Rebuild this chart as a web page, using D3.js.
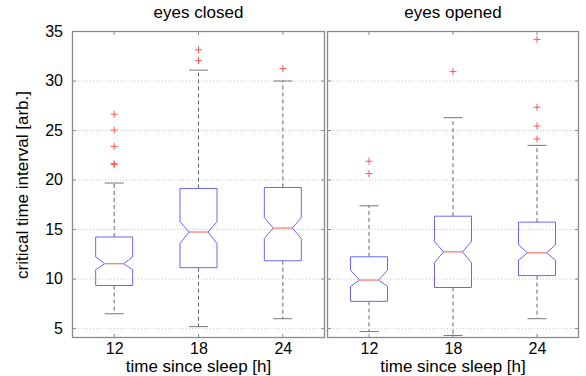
<!DOCTYPE html>
<html><head><meta charset="utf-8">
<script src="https://cdn.jsdelivr.net/npm/d3@7"></script>
<style>body{margin:0;background:#fff}svg{display:block}text{font-family:"Liberation Sans",Arial,sans-serif;fill:#000}</style>
</head><body><svg id="c" width="586" height="376"></svg>
<script>
const categories = ["12","18","24"];
const panels = ["eyes closed","eyes opened"];
const yTicks = [5,10,15,20,25,30,35];
// per panel, per category
const q1 = [[9.3,11.1,11.8],[7.7,9.1,10.3]];
const medians = [[11.5,14.7,15.1],[9.85,12.7,12.6]];
const q3 = [[14.2,19.1,19.2],[12.2,16.3,15.7]];
const notchLo = [[10.9,13.55,14.05],[9.2,11.6,11.85]];
const notchHi = [[12.2,15.75,16.15],[10.85,13.75,13.4]];
const whiskLo = [[6.5,5.2,6.0],[4.7,4.3,6.0]];
const whiskHi = [[19.7,31.1,30.0],[17.4,26.3,23.5]];
const outliers = [[[26.6,25.0,23.35,21.6,21.5],[33.1,32.0],[31.2]],[[21.85,20.6],[30.9],[34.15,27.3,25.4,24.1]]];

const svg = d3.select("#c");
const yTop = 31, yBot = 338;
const panelX = [[72,325],[327,579]];
const y = d3.scaleLinear().domain([4,35]).range([yBot, yTop]);

panels.forEach((title, p) => {
  const [x0, x1] = panelX[p];
  const x = d3.scalePoint().domain(categories).range([x0, x1]).padding(0.5);
  const g = svg.append("g");
  // grid
  g.selectAll(".grid").data(yTicks).join("line")
    .attr("x1", x0).attr("x2", x1).attr("y1", d => y(d)+0.5).attr("y2", d => y(d)+0.5)
    .attr("stroke", "#c8c8c8").attr("stroke-dasharray", "1,2").attr("stroke-width", 1);
  // y ticks both sides
  yTicks.forEach(t => {
    g.append("line").attr("x1", x0).attr("x2", x0+4).attr("y1", y(t)+0.5).attr("y2", y(t)+0.5).attr("stroke", "#888");
    g.append("line").attr("x1", x1-4).attr("x2", x1).attr("y1", y(t)+0.5).attr("y2", y(t)+0.5).attr("stroke", "#888");
  });
  // x ticks top and bottom
  categories.forEach(c => {
    g.append("line").attr("x1", x(c)).attr("x2", x(c)).attr("y1", yTop).attr("y2", yTop+4).attr("stroke", "#888");
    g.append("line").attr("x1", x(c)).attr("x2", x(c)).attr("y1", yBot-4).attr("y2", yBot).attr("stroke", "#888");
  });
  // frame
  g.append("rect").attr("x", x0+0.5).attr("y", yTop+0.5).attr("width", x1-x0-1).attr("height", yBot-yTop-1)
    .attr("fill", "none").attr("stroke", "#8a8a8a").attr("stroke-width", 1.3);
  // y axis labels on left panel
  if (p === 0) {
    const ax = d3.axisLeft(y).tickValues(yTicks).tickSize(0).tickPadding(9);
    const ag = svg.append("g").attr("transform", `translate(${x0},0)`).call(ax);
    ag.select(".domain").remove();
    ag.selectAll("text").style("font-size", "16px").attr("font-family", null).attr("fill", "#000");
  }
  // x axis labels
  const xa = d3.axisBottom(x).tickSize(0).tickPadding(5);
  const xg = svg.append("g").attr("transform", `translate(0,${yBot})`).call(xa);
  xg.select(".domain").remove();
  xg.selectAll("text").style("font-size", "16px").attr("font-family", null).attr("fill", "#000");
  // titles
  svg.append("text").attr("x", (x0+x1)/2).attr("y", 18).attr("text-anchor", "middle").style("font-size", "17px").text(title);
  svg.append("text").attr("x", (x0+x1)/2).attr("y", 372).attr("text-anchor", "middle").style("font-size", "17px").text("time since sleep [h]");

  const hw = 18.5, nw = 9.5;
  categories.forEach((c, i) => {
    const cx = x(c);
    // whiskers
    g.append("line").attr("x1", cx).attr("x2", cx).attr("y1", y(q3[p][i])).attr("y2", y(whiskHi[p][i]))
      .attr("stroke", "#666").attr("stroke-dasharray", "4,3");
    g.append("line").attr("x1", cx).attr("x2", cx).attr("y1", y(q1[p][i])).attr("y2", y(whiskLo[p][i]))
      .attr("stroke", "#666").attr("stroke-dasharray", "4,3");
    [whiskHi[p][i], whiskLo[p][i]].forEach(v => {
      g.append("line").attr("x1", cx-nw).attr("x2", cx+nw).attr("y1", y(v)+0.5).attr("y2", y(v)+0.5).attr("stroke", "#777");
    });
    // notched box
    const pts = [
      [cx-hw, y(q3[p][i])], [cx+hw, y(q3[p][i])], [cx+hw, y(notchHi[p][i])], [cx+nw, y(medians[p][i])],
      [cx+hw, y(notchLo[p][i])], [cx+hw, y(q1[p][i])], [cx-hw, y(q1[p][i])], [cx-hw, y(notchLo[p][i])],
      [cx-nw, y(medians[p][i])], [cx-hw, y(notchHi[p][i])]
    ];
    g.append("path").attr("d", d3.line()(pts) + "Z").attr("fill", "none").attr("stroke", "#6666ff").attr("stroke-width", 1);
    g.append("line").attr("x1", cx-nw).attr("x2", cx+nw).attr("y1", y(medians[p][i])).attr("y2", y(medians[p][i]))
      .attr("stroke", "#ff7070").attr("stroke-width", 1.2);
    // outliers
    outliers[p][i].forEach(v => {
      const oy = y(v);
      g.append("path").attr("d", `M${cx-3.5},${oy}H${cx+3.5}M${cx},${oy-3.5}V${oy+3.5}`).attr("stroke", "#ff5555").attr("stroke-width", 1);
    });
  });
});
// y label
svg.append("text").attr("transform", "translate(28,185) rotate(-90)").attr("text-anchor", "middle").style("font-size", "17px").text("critical time interval [arb.]");
</script></body></html>
